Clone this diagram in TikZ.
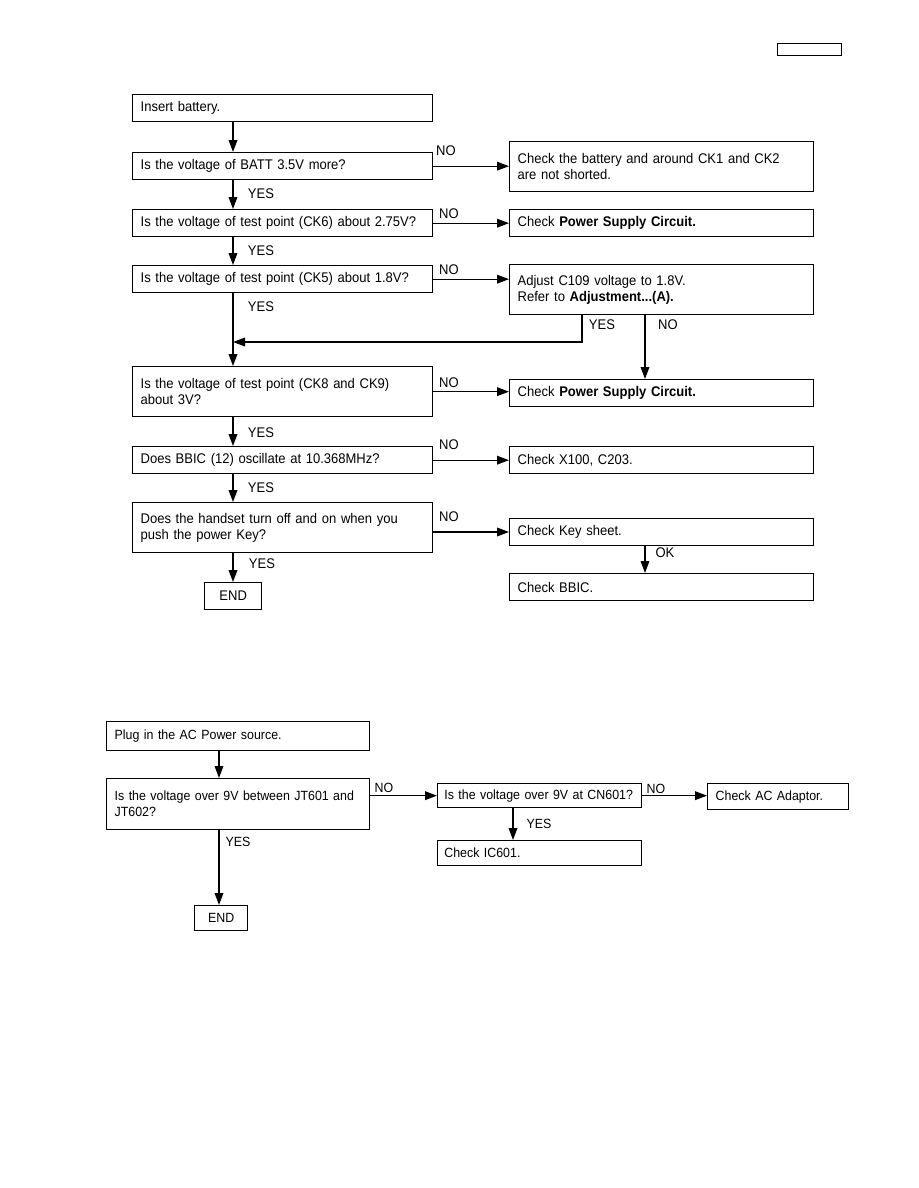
\documentclass[tikz,border=0pt]{standalone}
\usepackage{fontspec}
\setmainfont[FakeStretch=0.93,WordSpace=0.8]{Liberation Sans}
\usetikzlibrary{arrows.meta}
\tikzset{
  flowbox/.style={draw,line width=1pt,anchor=north west,align=left,inner xsep=6pt,inner ysep=1pt},
  qbox/.style={flowbox,text width=213pt,minimum height=20.25pt},
  qtall/.style={qbox,minimum height=37.5pt},
  rbox/.style={flowbox,text width=216pt,minimum height=20pt},
  rtall/.style={rbox,minimum height=37.5pt},
  endbox/.style={draw,line width=1pt,anchor=north west,inner sep=0pt},
  branchlabel/.style={inner sep=0pt},
  flowarrow/.style={-{Triangle[length=9pt,width=6.5pt]},line width=1pt}
}

\begin{document}
\begin{tikzpicture}[x=0.75pt,y=-0.75pt,font=\fontsize{10.5}{12}\selectfont]
  \useasboundingbox (0,0) rectangle (918,1188);
  \node[endbox,minimum width=48pt,minimum height=9pt] (pagetag) at (777,43) {};
  % first chart
  \coordinate (spine) at (233,0);
  \coordinate (rnox) at (645,0);
  \node[qbox] (q1) at (132,94) {Insert battery.};
  \node[qbox] (q2) at (132,152) {Is the voltage of BATT 3.5V more?};
  \node[rtall] (r1) at (509,141) {Check the battery and around CK1 and CK2\\are not shorted.};
  \node[qbox] (q3) at (132,209) {Is the voltage of test point (CK6) about 2.75V?};
  \node[rbox] (r2) at (509,209) {Check \textbf{Power Supply Circuit.}};
  \node[qbox] (q4) at (132,265) {Is the voltage of test point (CK5) about 1.8V?};
  \node[rtall] (r3) at (509,264) {Adjust C109 voltage to 1.8V.\\Refer to \textbf{Adjustment...(A).}};
  \node[qtall] (q5) at (132,366) {Is the voltage of test point (CK8 and CK9)\\about 3V?};
  \node[rbox] (r4) at (509,379) {Check \textbf{Power Supply Circuit.}};
  \node[qbox] (q6) at (132,446) {Does BBIC (12) oscillate at 10.368MHz?};
  \node[rbox] (r5) at (509,446) {Check X100, C203.};
  \node[qtall] (q7) at (132,502) {Does the handset turn off and on when you\\push the power Key?};
  \node[rbox] (r6) at (509,518) {Check Key sheet.};
  \node[rbox] (r7) at (509,573) {Check BBIC.};
  \node[endbox,minimum width=42.75pt,minimum height=20.25pt] (end1) at (204,582) {END};
  \coordinate (yesdrop) at (582,342);
  \coordinate (merge) at (233,342);
  \draw[flowarrow] (q1.south -| spine) -- (q2.north -| spine);
  \draw[flowarrow] (q2.east) -- (q2.east -| r1.west);
  \draw[flowarrow] (q2.south -| spine) -- (q3.north -| spine);
  \draw[flowarrow] (q3.east) -- (q3.east -| r2.west);
  \draw[flowarrow] (q3.south -| spine) -- (q4.north -| spine);
  \draw[flowarrow] (q4.east) -- (q4.east -| r3.west);
  \draw[flowarrow] (q4.south -| spine) -- (q5.north -| spine);
  \draw[flowarrow] (r3.south -| yesdrop) -- (yesdrop) -- (merge);
  \draw[flowarrow] (r3.south -| rnox) -- (r4.north -| rnox);
  \draw[flowarrow] (q5.east) -- (q5.east -| r4.west);
  \draw[flowarrow] (q5.south -| spine) -- (q6.north -| spine);
  \draw[flowarrow] (q6.east) -- (q6.east -| r5.west);
  \draw[flowarrow] (q6.south -| spine) -- (q7.north -| spine);
  \draw[flowarrow] (r6.west -| q7.east) -- (r6.west);
  \draw[flowarrow] (r6.south -| rnox) -- (r7.north -| rnox);
  \draw[flowarrow] (q7.south -| spine) -- (end1.north -| spine);
  \node[branchlabel] (no1) at (446,151) {NO};
  \node[branchlabel] (yes1) at (261,194) {YES};
  \node[branchlabel] (no2) at (449,214) {NO};
  \node[branchlabel] (yes2) at (261,251) {YES};
  \node[branchlabel] (no3) at (449,270) {NO};
  \node[branchlabel] (yes3) at (261,307) {YES};
  \node[branchlabel] (yes4) at (602,325) {YES};
  \node[branchlabel] (no4) at (668,325) {NO};
  \node[branchlabel] (no5) at (449,383) {NO};
  \node[branchlabel] (yes5) at (261,433) {YES};
  \node[branchlabel] (no6) at (449,445) {NO};
  \node[branchlabel] (yes6) at (261,488) {YES};
  \node[branchlabel] (no7) at (449,517) {NO};
  \node[branchlabel] (ok1) at (665,553) {OK};
  \node[branchlabel] (yes7) at (262,564) {YES};
  % second chart
  \begin{scope}[font=\fontsize{10}{12}\selectfont]
  \coordinate (acspine) at (219,0);
  \coordinate (icx) at (513,0);
  \node[flowbox,text width=185.25pt,minimum height=21.75pt] (a1) at (106,721) {Plug in the AC Power source.};
  \node[flowbox,text width=185.25pt,minimum height=38.25pt] (a2) at (106,778) {Is the voltage over 9V between JT601 and\\JT602?};
  \node[flowbox,inner xsep=5pt,text width=143pt,minimum height=18pt] (a3) at (437,783) {Is the voltage over 9V at CN601?};
  \node[flowbox,text width=93.75pt,minimum height=19.5pt] (a4) at (707,783) {Check AC Adaptor.};
  \node[flowbox,inner xsep=5pt,text width=143pt,minimum height=18.75pt] (a5) at (437,840) {Check IC601.};
  \node[endbox,minimum width=39.75pt,minimum height=18.75pt] (end2) at (194,905) {END};
  \draw[flowarrow] (a1.south -| acspine) -- (a2.north -| acspine);
  \draw[flowarrow] (a3.west -| a2.east) -- (a3.west);
  \draw[flowarrow] (a3.east) -- (a3.east -| a4.west);
  \draw[flowarrow] (a3.south -| icx) -- (a5.north -| icx);
  \draw[flowarrow] (a2.south -| acspine) -- (end2.north -| acspine);
  \node[branchlabel] (no8) at (384,788) {NO};
  \node[branchlabel] (no9) at (656,789) {NO};
  \node[branchlabel] (yes8) at (539,824) {YES};
  \node[branchlabel] (yes9) at (238,842) {YES};
  \end{scope}
\end{tikzpicture}
\end{document}
